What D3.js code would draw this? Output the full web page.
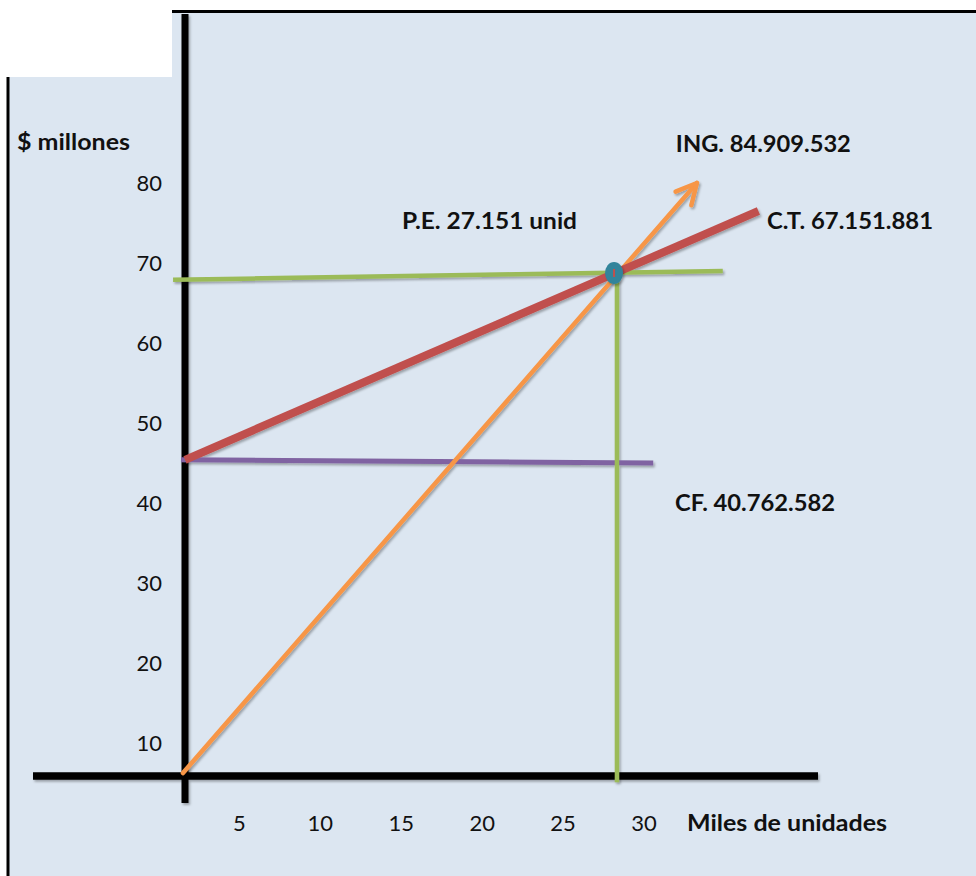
<!DOCTYPE html>
<html>
<head>
<meta charset="utf-8">
<script src="https://cdn.jsdelivr.net/npm/d3@7"></script>
<style>
  html, body { margin: 0; padding: 0; background: #ffffff; }
  svg { display: block; }
  text { font-family: Lato, "Open Sans", sans-serif; fill: #111; }
</style>
</head>
<body>
<svg id="chart" width="976" height="876"></svg>
<script>
// Punto de equilibrio: ingresos, costo total y costo fijo
// x: miles de unidades, y: $ millones
const xTicks = [5, 10, 15, 20, 25, 30];
const yTicks = [10, 20, 30, 40, 50, 60, 70, 80];

const ingresos   = [[1.54, 6.25], [33.3, 80.0]];   // ING (flecha)
const costoTotal = [[1.67, 45.4], [37.1, 76.5]];   // C.T.
const costoFijo  = [[1.42, 45.4], [30.6, 45.0]];   // CF
const nivelPE    = [[0.93, 67.9], [34.9, 69.0]];   // altura del punto de equilibrio
const volumenPE  = [[28.36, 69.0], [28.36, 5.1]];  // unidades en el punto de equilibrio
const puntoPE    = [28.18, 68.75];

const etiquetas = [
  { texto: "ING. 84.909.532",  x: 32.0,  y: 84.91, ancho: 175 },
  { texto: "P.E. 27.151 unid", x: 15.08, y: 75.25, ancho: 175 },
  { texto: "C.T. 67.151.881",  x: 37.63, y: 75.25, ancho: 166 },
  { texto: "CF. 40.762.582",   x: 31.95, y: 40.0,  ancho: 160 }
];

const svg = d3.select("#chart");
const W = 976, H = 876;

const x = d3.scaleLinear().domain([0, 30]).range([158, 643.5]);
const y = d3.scaleLinear().domain([0, 80]).range([823, 183]);

// frame of the diagram
const ejeV = 185, ejeH = 776;
const FUENTE = "Lato, 'Open Sans', sans-serif";

const defs = svg.append("defs");
const sombra = defs.append("filter").attr("id", "sombra")
  .attr("x", "-10%").attr("y", "-10%").attr("width", "130%").attr("height", "130%");
sombra.append("feDropShadow")
  .attr("dx", 1.5).attr("dy", 2).attr("stdDeviation", 1.3)
  .attr("flood-color", "#000").attr("flood-opacity", 0.3);

// panel background
svg.append("path")
  .attr("d", `M8,77 H172 V12 H${W} V${H} H8 Z`)
  .attr("fill", "#dce6f1");
svg.append("line").attr("x1", 172).attr("x2", W).attr("y1", 11.5).attr("y2", 11.5)
  .attr("stroke", "#000").attr("stroke-width", 3);
svg.append("line").attr("x1", 8).attr("x2", 8).attr("y1", 77).attr("y2", H)
  .attr("stroke", "#000").attr("stroke-width", 3);

// axes lines
const ejes = svg.append("g").attr("filter", "url(#sombra)");
ejes.append("line").attr("x1", ejeV).attr("x2", ejeV).attr("y1", 14).attr("y2", 803)
  .attr("stroke", "#000").attr("stroke-width", 7);
ejes.append("line").attr("x1", 33).attr("x2", 818).attr("y1", ejeH).attr("y2", ejeH)
  .attr("stroke", "#000").attr("stroke-width", 7.5);

// tick labels
const axY = svg.append("g").attr("transform", `translate(${ejeV},0)`)
  .call(d3.axisLeft(y).tickValues(yTicks).tickSize(0).tickPadding(23));
axY.select(".domain").remove();
axY.selectAll("text").attr("dy", "0.36em")
  .style("font-family", FUENTE).style("font-size", "22px").attr("fill", "#111");

const axX = svg.append("g").attr("transform", `translate(0,${ejeH})`)
  .call(d3.axisBottom(x).tickValues(xTicks).tickSize(0));
axX.select(".domain").remove();
axX.selectAll("text").attr("y", 823 - ejeH).attr("dy", "0.36em")
  .style("font-family", FUENTE).style("font-size", "22px").attr("fill", "#111");

// axis titles
svg.append("text").attr("x", 17).attr("y", 142).attr("dy", "0.36em")
  .attr("font-size", 22).attr("font-weight", 700)
  .attr("textLength", 113).attr("lengthAdjust", "spacingAndGlyphs")
  .text("$ millones");
svg.append("text").attr("x", 687).attr("y", 823).attr("dy", "0.36em")
  .attr("font-size", 22).attr("font-weight", 700)
  .attr("textLength", 200).attr("lengthAdjust", "spacingAndGlyphs")
  .text("Miles de unidades");

const linea = d3.line().x(d => x(d[0])).y(d => y(d[1]));
const trazos = svg.append("g").attr("filter", "url(#sombra)").attr("fill", "none");

trazos.append("path").datum(costoFijo).attr("d", linea)
  .attr("stroke", "#8064a2").attr("stroke-width", 5);
trazos.append("path").datum(nivelPE).attr("d", linea)
  .attr("stroke", "#9bbb59").attr("stroke-width", 4.5);
trazos.append("path").datum(volumenPE).attr("d", linea)
  .attr("stroke", "#9bbb59").attr("stroke-width", 4.5);

// revenue line with open arrow head
trazos.append("path").datum(ingresos).attr("d", linea)
  .attr("stroke", "#f79646").attr("stroke-width", 4.5).attr("stroke-linecap", "round");
{
  const a = ingresos[ingresos.length - 2], b = ingresos[ingresos.length - 1];
  const px = x(b[0]), py = y(b[1]);
  const ang = Math.atan2(y(a[1]) - py, x(a[0]) - px);
  const L = 23, abre = 27 * Math.PI / 180;
  const p1 = [px + L * Math.cos(ang + abre), py + L * Math.sin(ang + abre)];
  const p2 = [px + L * Math.cos(ang - abre), py + L * Math.sin(ang - abre)];
  trazos.append("path")
    .attr("d", `M${p1[0]},${p1[1]} L${px},${py} L${p2[0]},${p2[1]}`)
    .attr("stroke", "#f79646").attr("stroke-width", 4.5)
    .attr("stroke-linecap", "round").attr("stroke-linejoin", "round");
}

trazos.append("path").datum(costoTotal).attr("d", linea)
  .attr("stroke", "#c0504d").attr("stroke-width", 8);

// break-even point
const pe = svg.append("g").attr("filter", "url(#sombra)");
pe.append("ellipse").attr("cx", x(puntoPE[0])).attr("cy", y(puntoPE[1]))
  .attr("rx", 9).attr("ry", 11).attr("fill", "#31849b");
pe.append("line")
  .attr("x1", x(puntoPE[0])).attr("x2", x(puntoPE[0]))
  .attr("y1", y(puntoPE[1]) - 4).attr("y2", y(puntoPE[1]) + 4)
  .attr("stroke", "#c0504d").attr("stroke-width", 2);

// value annotations
svg.append("g").selectAll("text").data(etiquetas).join("text")
  .attr("x", d => x(d.x)).attr("y", d => y(d.y)).attr("dy", "0.36em")
  .attr("font-size", 22).attr("font-weight", 700)
  .attr("textLength", d => d.ancho).attr("lengthAdjust", "spacingAndGlyphs")
  .text(d => d.texto);
</script>
</body>
</html>
